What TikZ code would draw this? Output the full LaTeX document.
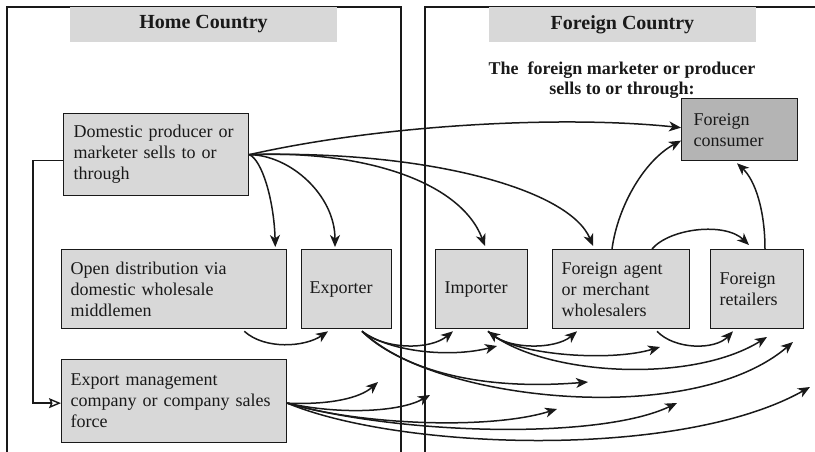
\documentclass[tikz,border=0pt]{standalone}
\usepackage{fontspec}
\setmainfont{Liberation Serif}
\usetikzlibrary{arrows.meta,calc}
\definecolor{boxgray}{RGB}{216,216,216}
\definecolor{consgray}{RGB}{180,180,180}
\definecolor{ink}{RGB}{25,25,25}

\begin{document}
\begin{tikzpicture}[x=1pt,y=-1pt,
  >={Stealth[length=12pt,width=10pt,inset=3.5pt]},
  panel/.style={draw=ink,line width=1.4pt},
  boxnode/.style={draw=ink,line width=1.3pt,fill=boxgray,anchor=north west,align=left,
    inner ysep=0pt,inner xsep=9pt,font=\fontsize{18}{21}\selectfont,text=ink},
  header/.style={fill=boxgray,inner sep=0pt,minimum width=267pt,minimum height=35pt,
    font=\fontsize{20}{24}\selectfont\bfseries,text=ink},
  arr/.style={draw=ink,line width=1.5pt,->},
  arrboth/.style={draw=ink,line width=1.5pt,<->},
]
\useasboundingbox (0,0) rectangle (815,452);

% country panels
\draw[panel] (7,452) -- (7,7) -- (401,7) -- (401,452);
\draw[panel] (815,7) -- (425,7) -- (425,452);

% headings
\node[header] (homeh) at (203.5,24.5) {Home Country};
\node[header] (forh) at (622.5,24.5) {Foreign Country};
\node[font=\fontsize{18}{20}\selectfont\bfseries,align=center,text=ink,inner sep=0pt]
  (sub) at (622,80) {The\ \ foreign marketer or producer\\ sells to or through:};

% channel boxes
\node[boxnode,minimum height=82pt,text width=165pt,inner xsep=10pt] (dom) at (63,113)
  {Domestic producer or\\ marketer sells to or\\ through};
\node[boxnode,minimum height=79pt,text width=207pt] (open) at (61,249)
  {Open distribution via\\ domestic wholesale\\ middlemen};
\node[boxnode,minimum height=79pt,text width=74pt,inner xsep=8pt] (exp) at (301,249) {Exporter};
\node[boxnode,minimum height=83pt,text width=207pt] (expm) at (61,359)
  {Export management\\ company or company sales\\ force};
\node[boxnode,minimum height=79pt,text width=74pt] (imp) at (435,249) {Importer};
\node[boxnode,minimum height=79pt,text width=119pt] (agent) at (552,249)
  {Foreign agent\\ or merchant\\ wholesalers};
\node[boxnode,minimum height=79pt,text width=75pt] (ret) at (710,249) {Foreign\\ retailers};
\node[boxnode,fill=consgray,minimum height=62pt,text width=92pt,inner xsep=12pt] (cons) at (681,98)
  {Foreign\\ consumer};

% open arrow ends
\coordinate (t2) at (497,346);
\coordinate (t5) at (660,347);
\coordinate (t7) at (767,337);
\coordinate (t8) at (793,342);
\coordinate (t9) at (588,382);
\coordinate (t10) at (810,387);
\coordinate (t11) at (557,409);
\coordinate (t12) at (677,403);
\coordinate (t13) at (378,382);
\coordinate (t14) at (430,395);

% domestic producer to export management
\draw[draw=ink,line width=1.4pt,-{Stealth[open,length=12pt,width=10pt,inset=2pt]}]
  ($(dom.west)+(0,6)$) -- ++(-30,0) |- ($(expm.west)+(0,2)$);

% from the domestic producer
\draw[arr] (dom.east) .. controls (380,125) and (560,115) .. ($(cons.west)+(0,-2)$);
\draw[arr] (dom.east) .. controls (430,150) and (570,190) .. ($(agent.north west)+(41,-3)$);
\draw[arr] (dom.east) .. controls (360,150) and (460,180) .. ($(imp.north west)+(50,-3)$);
\draw[arr] (dom.east) .. controls (290,155) and (335,195) .. ($(exp.north west)+(34,-2)$);
\draw[arr] (dom.east) .. controls (262,160) and (274,200) .. ($(open.north east)+(-12,-2)$);

% inside the foreign country
\draw[arr] ($(agent.north west)+(60,0)$) .. controls (618,205) and (645,160) .. ($(cons.west)+(0,11)$);
\draw[arr] ($(ret.north west)+(55,0)$) .. controls (765,210) and (755,180) .. ($(cons.south west)+(56,2)$);
\draw[arr] ($(agent.north west)+(100,0)$) .. controls (670,228) and (725,222) .. ($(ret.north west)+(39,-4)$);
\draw[arr] ($(agent.south west)+(105,2)$) .. controls (675,350) and (715,350) .. ($(ret.south west)+(23,2)$);

% open distribution to exporter
\draw[arr] ($(open.south east)+(-43,2)$) .. controls (265,350) and (305,347) .. ($(exp.south west)+(27,2)$);

% from the exporter
\draw[arr] ($(exp.south west)+(61,2)$) .. controls (385,350) and (430,350) .. ($(imp.south west)+(18,2)$);
\draw[arr] ($(exp.south west)+(61,2)$) .. controls (390,352) and (450,358) .. (t2);
\draw[arr] ($(exp.south west)+(61,2)$) .. controls (410,375) and (490,390) .. (t9);
\draw[arr] ($(exp.south west)+(61,2)$) .. controls (430,400) and (690,430) .. (t8);

% from the importer
\draw[arr] ($(imp.south west)+(53,2)$) .. controls (505,350) and (555,350) .. ($(agent.south west)+(25,2)$);
\draw[arrboth] ($(imp.south west)+(53,2)$) .. controls (520,355) and (610,362) .. (t5);
\draw[arr] ($(imp.south west)+(53,2)$) .. controls (540,375) and (690,385) .. (t7);

% from export management
\draw[arr] ($(expm.east)+(0,2)$) .. controls (330,405) and (360,398) .. (t13);
\draw[arr] ($(expm.east)+(0,2)$) .. controls (340,415) and (400,412) .. (t14);
\draw[arr] ($(expm.east)+(0,2)$) .. controls (360,425) and (490,430) .. (t11);
\draw[arr] ($(expm.east)+(0,2)$) .. controls (400,435) and (600,440) .. (t12);
\draw[arr] ($(expm.east)+(0,2)$) .. controls (400,450) and (680,460) .. (t10);
\end{tikzpicture}
\end{document}
